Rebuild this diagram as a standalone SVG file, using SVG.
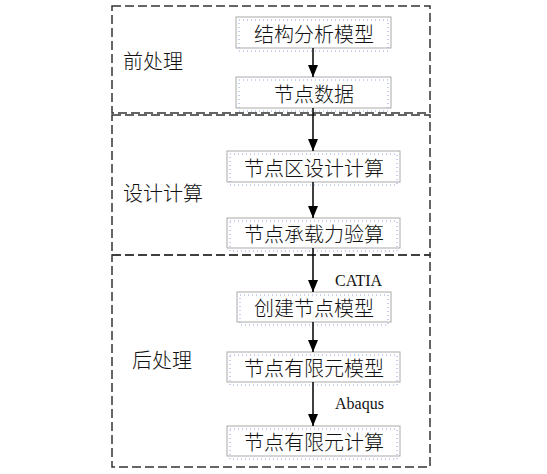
<svg xmlns="http://www.w3.org/2000/svg" width="547" height="474" viewBox="0 0 547 474">
<defs>
<marker id="ah" markerWidth="12" markerHeight="10" refX="12" refY="5" orient="auto" markerUnits="userSpaceOnUse" viewBox="0 0 12 10">
<path d="M0,0 L12,5 L0,10 Z" fill="#000"/>
</marker>
</defs>
<style>
.sec{fill:none;stroke:#333;stroke-width:1.5;stroke-dasharray:9 4}
.box{fill:#fff;stroke:#aaa;stroke-width:1}
.dot{fill:none;stroke:#8fa0e0;stroke-width:1;stroke-dasharray:1 3}
.t{font-family:"Noto Sans CJK SC","Noto Sans CJK JP",sans-serif;font-size:20px;font-weight:300;fill:#111;text-anchor:middle;dominant-baseline:central}
.lab{font-family:"Noto Sans CJK SC","Noto Sans CJK JP",sans-serif;font-size:20px;font-weight:300;fill:#111;dominant-baseline:central}
.en{font-family:"Liberation Serif",serif;font-size:16px;fill:#111;dominant-baseline:central}
.c{stroke:#000;stroke-width:1.5;fill:none;marker-end:url(#ah)}
</style>
<g id="sections">
<rect class="sec" x="112" y="6" width="318" height="107"/>
<rect class="sec" x="112" y="115" width="318" height="140"/>
<rect class="sec" x="112" y="255" width="318" height="212"/>
<text class="lab" x="123" y="60">前处理</text>
<text class="lab" x="123" y="192">设计计算</text>
<text class="lab" x="132" y="359">后处理</text>
</g>
<g id="n1"><rect class="box" x="236" y="17" width="155" height="31"/><rect class="dot" x="239" y="20" width="149" height="31"/><text class="t" x="314" y="33">结构分析模型</text></g>
<g id="n2"><rect class="box" x="236" y="77" width="155" height="31"/><rect class="dot" x="239" y="80" width="149" height="31"/><text class="t" x="314" y="93">节点数据</text></g>
<g id="n3"><rect class="box" x="227" y="151" width="173" height="31"/><rect class="dot" x="230" y="154" width="167" height="31"/><text class="t" x="314" y="167">节点区设计计算</text></g>
<g id="n4"><rect class="box" x="227" y="218" width="173" height="30"/><rect class="dot" x="230" y="221" width="167" height="30"/><text class="t" x="314" y="233">节点承载力验算</text></g>
<g id="n5"><rect class="box" x="237" y="292" width="154" height="30"/><rect class="dot" x="240" y="295" width="148" height="30"/><text class="t" x="314" y="307">创建节点模型</text></g>
<g id="n6"><rect class="box" x="227" y="352" width="173" height="30"/><rect class="dot" x="230" y="355" width="167" height="30"/><text class="t" x="314" y="367">节点有限元模型</text></g>
<g id="n7"><rect class="box" x="227" y="426" width="173" height="30"/><rect class="dot" x="230" y="429" width="167" height="30"/><text class="t" x="314" y="441">节点有限元计算</text></g>
<g id="connectors">
<line class="c" x1="313" y1="48" x2="313" y2="77"/>
<line class="c" x1="313" y1="108" x2="313" y2="151"/>
<line class="c" x1="313" y1="182" x2="313" y2="218"/>
<line class="c" x1="313" y1="248" x2="313" y2="292"/>
<line class="c" x1="313" y1="322" x2="313" y2="352"/>
<line class="c" x1="313" y1="382" x2="313" y2="426"/>
<text class="en" x="335" y="280">CATIA</text>
<text class="en" x="335" y="403">Abaqus</text>
</g>
</svg>
